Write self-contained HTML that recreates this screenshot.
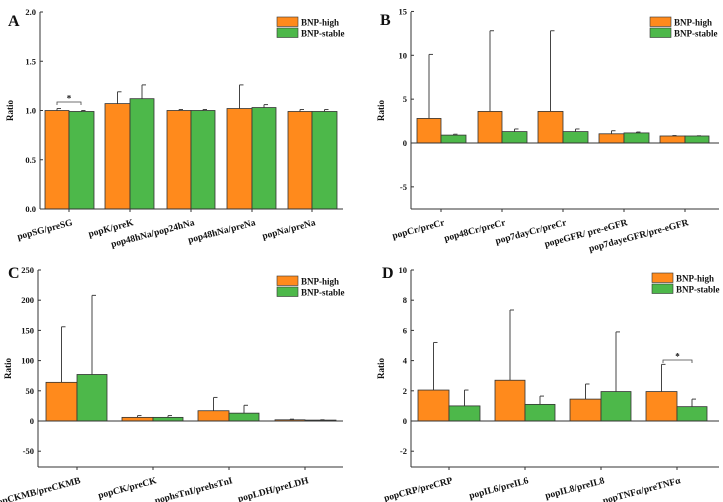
<!DOCTYPE html>
<html><head><meta charset="utf-8"><style>
html,body{margin:0;padding:0;background:#fff;width:723px;height:502px;overflow:hidden}
svg text{font-family:"Liberation Serif",serif;font-weight:bold;fill:#111}
</style></head><body>
<svg id="s" width="723" height="502" viewBox="0 0 723 502" xmlns="http://www.w3.org/2000/svg"></svg>
<script>
const O="#FF8A1C",G="#4DB84A";
const P=[
{L:"A",lx:8,ly:26,ax:40,top:12,zero:209,bot:209,xr:343,u:98.5,ticks:[[0,"0.0"],[0.5,"0.5"],[1,"1.0"],[1.5,"1.5"],[2,"2.0"]],
 bars:[[45,69,1.0,1.02],[69,94,0.99,1.0],[105,130,1.07,1.19],[130,154,1.12,1.26],[167,191,1.0,1.01],[191,215,1.0,1.01],[227,252,1.02,1.26],[252,276,1.03,1.06],[288,312,0.99,1.01],[312,337,0.99,1.01]],
 labels:["popSG/preSG","popK/preK","pop48hNa/pop24hNa","pop48hNa/preNa","popNa/preNa"],leg:[277,17],star:[57,81,102]},
{L:"B",lx:380,ly:25,ax:411,top:12,zero:143,bot:209,xr:719,u:8.77,ticks:[[-5,"-5"],[0,"0"],[5,"5"],[10,"10"],[15,"15"]],
 bars:[[417,441,2.8,10.1],[441,466,0.9,1.0],[478,502,3.6,12.8],[502,527,1.3,1.6],[538,563,3.6,12.8],[563,588,1.3,1.6],[599,624,1.05,1.4],[624,649,1.15,1.25],[660,685,0.8,0.85],[685,709,0.8,0.82]],
 labels:["popCr/preCr","pop48Cr/preCr","pop7dayCr/preCr","popeGFR/ pre-eGFR","pop7dayeGFR/pre-eGFR"],leg:[650,17]},
{L:"C",lx:8,ly:278,ax:38,top:270,zero:421,bot:467,xr:343,u:0.604,ticks:[[-50,"-50"],[0,"0"],[50,"50"],[100,"100"],[150,"150"],[200,"200"],[250,"250"]],
 bars:[[46,77,64,156],[77,107,77,208],[122,153,6,9],[153,183,6,9],[198,229,17,39],[229,259,13,26],[275,305,2,3],[305,336,1.5,2]],
 labels:["popCKMB/preCKMB","popCK/preCK","pophsTnI/prehsTnI","popLDH/preLDH"],leg:[277,276]},
{L:"D",lx:382,ly:278,ax:411,top:270,zero:421,bot:467,xr:719,u:15.1,ticks:[[-2,"-2"],[0,"0"],[2,"2"],[4,"4"],[6,"6"],[8,"8"],[10,"10"]],
 bars:[[418,449,2.05,5.2],[449,480,1.0,2.05],[495,525,2.7,7.35],[525,555,1.1,1.65],[570,601,1.45,2.45],[601,631,1.95,5.9],[646,677,1.95,3.75],[677,707,0.95,1.45]],
 labels:["popCRP/preCRP","popIL6/preIL6","popIL8/preIL8","popTNFα/preTNFα"],leg:[652,273],star:[663,692,360]}
];
let h="";
for(const p of P){
 const Y=v=>p.zero-v*p.u;
 h+=`<text x="${p.lx}" y="${p.ly}" font-size="16">${p.L}</text>`;
 p.bars.forEach((b,i)=>{
  const c=i%2?G:O, yt=Y(b[2]), ye=Y(b[3]), cx=(b[0]+b[1])/2;
  h+=`<line x1="${cx}" y1="${ye}" x2="${cx}" y2="${yt}" stroke="#444" stroke-width="1"/><line x1="${cx}" y1="${ye}" x2="${cx+4}" y2="${ye}" stroke="#444" stroke-width="1"/>`;
  h+=`<rect x="${b[0]}" y="${yt}" width="${b[1]-b[0]}" height="${p.zero-yt}" fill="${c}" stroke="#333" stroke-width="0.8"/>`;
 });
 h+=`<line x1="${p.ax}" y1="${p.top}" x2="${p.ax}" y2="${p.bot}" stroke="#333" stroke-width="1"/>`;
 h+=`<line x1="${p.ax}" y1="${p.zero}" x2="${p.xr}" y2="${p.zero}" stroke="#333" stroke-width="1"/>`;
 if(p.bot!=p.zero) h+=`<line x1="${p.ax}" y1="${p.bot}" x2="${p.xr}" y2="${p.bot}" stroke="#333" stroke-width="1"/>`;
 for(const [v,t] of p.ticks){const y=Y(v);
  h+=`<line x1="${p.ax}" y1="${y}" x2="${p.ax+3}" y2="${y}" stroke="#333"/><text x="${p.ax-4}" y="${y+3}" font-size="8.5" text-anchor="end">${t}</text>`;}
 h+=`<text transform="translate(${p.ax-27},${(p.top+p.bot)/2}) rotate(-90)" font-size="9" text-anchor="middle">Ratio</text>`;
 p.labels.forEach((l,i)=>{const cx=p.bars[2*i][1];
  h+=`<line x1="${cx}" y1="${p.bot}" x2="${cx}" y2="${p.bot+3}" stroke="#333"/>`;
  h+=`<text transform="translate(${cx+4},${p.bot+16}) rotate(-15)" font-size="9.5" text-anchor="end">${l}</text>`;});
 const [lx,ly]=p.leg;
 h+=`<rect x="${lx}" y="${ly}" width="21" height="9.5" fill="${O}" stroke="#333" stroke-width="0.6"/><text x="${lx+24}" y="${ly+8.5}" font-size="9">BNP-high</text>`;
 h+=`<rect x="${lx}" y="${ly+11}" width="21" height="9.5" fill="${G}" stroke="#333" stroke-width="0.6"/><text x="${lx+24}" y="${ly+19.5}" font-size="9">BNP-stable</text>`;
 if(p.star){const [a,b,y]=p.star;
  h+=`<path d="M${a} ${y+3}V${y}H${b}V${y+3}" fill="none" stroke="#444" stroke-width="0.8"/><text x="${(a+b)/2}" y="${y-0.5}" font-size="9" text-anchor="middle">*</text>`;}
}
document.getElementById("s").innerHTML=h;
</script>
</body></html>
